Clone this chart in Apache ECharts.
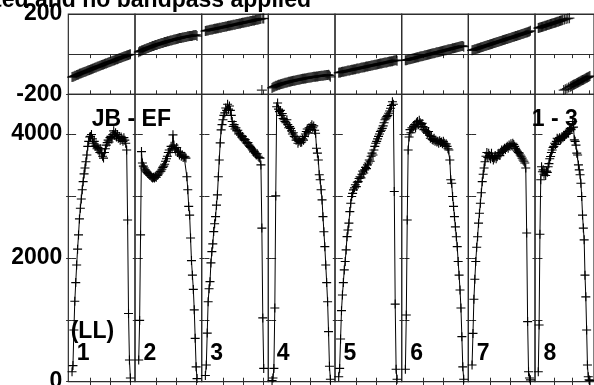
<!DOCTYPE html>
<html><head><meta charset="utf-8">
<script src="https://cdn.jsdelivr.net/npm/echarts@6/dist/echarts.min.js"></script>
<style>html,body{margin:0;padding:0;background:#fff}#c{width:594px;height:385px}</style>
</head><body><div id="c"></div>
<script>
// ---- data ----
const ifLabels = ['1','2','3','4','5','6','7','8'];
const baselineLabel = 'JB - EF';
const antennaLabel = '1 - 3';
const polLabel = '(LL)';
const titleText = 'Calibrated and no bandpass applied';
const phaseTickLabels = [-200, 200];
const ampTickLabels = [0, 2000, 4000];
const xTickChannels = [20.4, 42, 63.6];

const amp1 = [160,260,835,1300,1600,1885,2140,2370,2628,2800, 2950,3100,3230,3355,3450,3550,3660,3800,3880,3950, 3960,3990,3920,3850,3880,3800,3820,3760,3780,3740, 3700,3760,3680,3640,3610,3700,3760,3820,3860,3900, 3870,3940,3960,3920,3990,4050,3980,4020,3950,3990, 3930,3960,3900,3950,3920,3880,3940,3900,3850,3740, 2610,1100,350,60];
const amp2 = [350,990,2370,3715,3530,3480,3450,3420,3400,3380, 3360,3350,3330,3320,3300,3290,3300,3290,3310,3300, 3330,3340,3370,3390,3400,3430,3460,3480,3510,3560, 3600,3640,3700,3740,3700,3800,3760,3985,3820,3760, 3740,3780,3700,3720,3660,3700,3640,3660,3620,3640, 3630,3610,3310,3100,2830,2690,2320,1955,1720,1490, 1160,700,240,50];
const amp3 = [100,270,785,1290,1500,1615,1918,2100,2225,2423, 2550,2665,2850,3016,3310,3580,3855,4066,4150,4230, 4300,4340,4420,4380,4480,4400,4450,4380,4300,4200, 4120,4150,4080,4100,4050,4060,4000,4010,3980,3950, 3960,3920,3900,3910,3870,3850,3860,3820,3800,3780, 3760,3740,3710,3720,3690,3660,3680,3640,3620,3610, 3500,2480,1030,215];
const amp4 = [20,60,215,1190,3000,4440,4500,4400,4360,4380, 4300,4330,4250,4230,4200,4180,4230,4150,4100,4120, 4090,4050,4000,4020,3960,3950,3900,3920,3850,3880, 3900,3860,3870,3920,3900,3960,4000,4040,4080,4020, 4100,4070,4120,4150,4100,4130,4060,4010,3770,3690, 3580,3340,3260,3100,2935,2665,2420,2180,1885,1600, 1290,808,250,40];
const amp5 = [80,215,690,1147,1400,1600,1805,1940,2128,2342, 2450,2560,2746,2880,2990,3040,3097,3130,3180,3150, 3220,3230,3280,3310,3290,3350,3400,3370,3420,3460, 3440,3500,3530,3580,3560,3640,3690,3660,3740,3800, 3850,3880,3920,3960,4000,4040,4060,4090,4130,4180, 4230,4255,4280,4300,4335,4370,4415,4460,4520,4480, 3070,1253,200,40];
const amp6 = [200,1077,2610,3740,3950,4070,4020,4100,4080,4120, 4150,4100,4180,4200,4150,4220,4180,4150,4170,4120, 4070,4100,4050,4030,4010,4040,3980,3930,3960,3910, 3900,3930,3880,3900,3870,3880,3850,3890,3860,3870, 3840,3880,3850,3820,3840,3800,3760,3740,3580,3260, 3205,2990,2830,2665,2500,2340,2180,1940,1720,1480, 1190,727,240,40];
const amp7 = [270,780,1330,1655,1940,2170,2340,2560,2720,2880, 3050,3230,3350,3450,3550,3640,3700,3620,3690,3650, 3600,3690,3620,3580,3610,3650,3600,3630,3660,3690, 3650,3700,3740,3720,3740,3770,3750,3780,3800,3770, 3820,3800,3840,3810,3850,3830,3800,3770,3740,3720, 3700,3690,3660,3640,3610,3580,3560,3530,3450,2400, 970,160,60,30];
const amp8 = [160,915,2380,3260,3470,3390,3420,3350,3390,3330, 3400,3380,3470,3520,3600,3635,3700,3740,3780,3800, 3850,3830,3880,3930,3920,3900,3940,3900,3920,3960, 3940,3980,3960,4000,3990,4010,4040,4010,4060,4090, 4070,4100,4200,4110,3905,3880,3820,3690,3660,3500, 3420,3340,3205,2990,2690,2480,2290,1720,1370,835, 270,80,30,20];

const phase1 = [-114,-112,-111,-108,-107,-104,-103,-101,-98,-97, -95,-93,-92,-89,-88,-86,-84,-82,-80,-79, -76,-75,-73,-71,-69,-67,-66,-63,-62,-60, -58,-57,-54,-53,-51,-49,-47,-46,-44,-42, -40,-39,-37,-35,-33,-32,-30,-28,-26,-25, -23,-21,-19,-18,-16,-14,-12,-11,-9,-7, -5,-4,-2,-1];
const phase2 = [10,14,15,18,19,21,24,25,27,30, 31,32,35,36,38,40,41,43,45,46, 47,50,50,52,54,55,56,58,60,60, 62,64,64,66,68,68,69,71,73,73, 74,76,77,78,80,80,81,83,83,84, 86,86,87,89,89,90,91,91,92,94, 94,95,96,90];
const phase3 = [115,117,118,118,120,121,122,123,123,125, 126,126,128,129,129,131,132,132,134,135, 135,137,138,138,140,141,141,143,144,144, 146,147,147,149,150,150,152,153,153,155, 156,156,158,159,159,161,162,162,164,165, 165,167,168,168,170,171,171,173,174,175, 176,-179,178,177];
const phase4 = [-168,-165,-162,-161,-158,-157,-155,-153,-152,-150, -149,-147,-146,-145,-143,-142,-141,-140,-138,-137, -136,-135,-134,-133,-132,-131,-130,-129,-128,-127, -126,-125,-124,-123,-122,-121,-121,-120,-119,-118, -117,-116,-116,-115,-114,-113,-113,-112,-111,-111, -110,-109,-109,-108,-107,-107,-106,-105,-105,-104, -104,-103,-106,-113];
const phase5 = [-93,-91,-91,-89,-88,-88,-86,-85,-85,-83, -82,-81,-81,-79,-78,-78,-76,-75,-75,-73, -72,-71,-71,-69,-68,-67,-66,-65,-65,-63, -62,-61,-60,-59,-59,-57,-56,-55,-54,-53, -53,-51,-50,-49,-48,-47,-47,-45,-44,-43, -42,-41,-41,-39,-38,-37,-36,-35,-35,-33, -32,-31,-30,-33];
const phase6 = [-31,-30,-29,-27,-26,-25,-24,-23,-22,-20, -19,-18,-17,-16,-15,-13,-12,-11,-10,-9, -8,-6,-5,-4,-3,-2,-1,1,2,3, 4,5,6,8,9,10,11,12,13,15, 16,17,18,19,20,22,23,24,25,26, 27,29,30,31,32,33,34,36,37,38, 39,40,41,37];
const phase7 = [19,21,22,24,25,27,28,30,31,33, 34,36,37,39,40,42,43,45,46,48, 49,51,52,54,55,57,58,60,61,63, 64,66,67,69,70,72,73,75,76,78, 79,81,82,84,85,87,88,90,91,93, 94,96,97,99,100,102,103,105,106,108, 109,111,113,116];
const phase8 = [130,131,133,134,135,137,138,139,141,142, 143,145,146,147,149,150,151,153,154,155, 157,158,159,161,162,163,165,166,167,169, 170,-179,172,-175,175,-171,177,-166,179,-162, -160,-158,-155,-153,-151,-149,-147,-144,-142,-140, -138,-136,-133,-131,-129,-127,-125,-122,-120,-118, -116,-114,-111,-109];

const amps = [amp1,amp2,amp3,amp4,amp5,amp6,amp7,amp8];
const phases = [phase1,phase2,phase3,phase4,phase5,phase6,phase7,phase8];
const channels = amp1.map((_, k) => k + 1);

// ---- layout ----
const X0 = 68.33, W = 66.67, TOP = 14, MID = 94.3, BOT = 381.7;
const PLUS = 'path://M0,5L10,5M5,0L5,10';
const FONTCSS = 'bold 23px "Liberation Sans"';
const FONT = {fontFamily: 'Liberation Sans', fontWeight: 'bold', fontSize: 23, color: '#000'};
const AX = '#2e2e2e';

const grids = [], xAxes = [], yAxes = [], series = [], graphics = [];
let ampAxis0 = null;
for (let i = 0; i < 8; i++) {
  const L = X0 + i * W;
  const gp = grids.length;
  grids.push({left: L, top: TOP, width: W, height: MID - TOP, show: true, borderColor: AX, borderWidth: 1.2});
  const ga = grids.length;
  grids.push({left: L, top: MID, width: W, height: BOT - MID, show: true, borderColor: AX, borderWidth: 1.2});
  const xIdx = {};
  [gp, ga].forEach(g => {
    ['top', 'bottom'].forEach(pos => {
      xIdx[g + pos] = xAxes.length;
      xAxes.push({gridIndex: g, type: 'value', position: pos, min: -3, max: 69,
        axisLine: {show: false}, splitLine: {show: false}, axisLabel: {show: false},
        axisTick: {show: true, inside: true, length: 4, customValues: xTickChannels, lineStyle: {color: AX, width: 1}}});
    });
  });
  const yP = yAxes.length;
  yAxes.push({gridIndex: gp, type: 'value', min: -200, max: 200, interval: 200,
    axisLine: {show: false}, axisTick: {show: false},
    splitLine: {show: true, lineStyle: {color: AX, width: 1}},
    axisLabel: Object.assign({show: i === 0, margin: 6, formatter: v => phaseTickLabels.includes(v) ? String(v) : ''}, FONT)});
  const yA = yAxes.length;
  if (i === 0) ampAxis0 = yA;
  // label at the axis minimum is drawn separately (below) so it can overflow the canvas like the original
  yAxes.push({gridIndex: ga, type: 'value', min: 0, max: 4640, interval: 1000,
    axisLine: {show: false}, splitLine: {show: false},
    axisTick: {show: true, inside: true, length: 5, lineStyle: {color: AX, width: 1}},
    axisLabel: Object.assign({show: i === 0, margin: 6, formatter: v => (v !== ampTickLabels[0] && ampTickLabels.includes(v)) ? String(v) : ''}, FONT)});
  yAxes.push({gridIndex: ga, type: 'value', position: 'right', min: 0, max: 4640, interval: 1000,
    axisLine: {show: false}, splitLine: {show: false}, axisLabel: {show: false},
    axisTick: {show: true, inside: true, length: 5, lineStyle: {color: AX, width: 1}}});

  series.push({type: 'line', xAxisIndex: xIdx[ga + 'bottom'], yAxisIndex: yA,
    data: channels.map((c, k) => [c, amps[i][k]]),
    symbol: PLUS, symbolSize: 9, showAllSymbol: true, clip: true, silent: true,
    lineStyle: {color: '#000', width: 1},
    itemStyle: {color: 'none', borderColor: '#000', borderWidth: 1.1}});
  series.push({type: 'scatter', xAxisIndex: xIdx[gp + 'bottom'], yAxisIndex: yP,
    data: channels.map((c, k) => [c, phases[i][k]]),
    symbol: PLUS, symbolSize: 10, clip: true, silent: true,
    itemStyle: {color: 'none', borderColor: '#000', borderWidth: 1.2}});

  graphics.push({type: 'text', z: 100, style: {text: ifLabels[i], x: L + 8.5, y: 353.3,
    font: FONTCSS, fill: '#000', textAlign: 'left', textVerticalAlign: 'middle'}});
}
const txt = (t, x, y, align) => ({type: 'text', z: 100, style: {text: t, x: x, y: y,
  font: FONTCSS, fill: '#000', textAlign: align || 'left', textVerticalAlign: 'middle'}});
graphics.push(txt(titleText, 311, 0.5, 'right'));
graphics.push(txt(baselineLabel, 91.7, 120));
graphics.push(txt(antennaLabel, 531.7, 120));
graphics.push(txt(polLabel, 70.7, 331.5));

const chart = echarts.init(document.getElementById('c'), null, {renderer: 'canvas'});
chart.setOption({animation: false, backgroundColor: '#fff',
  grid: grids, xAxis: xAxes, yAxis: yAxes, series: series, graphic: graphics});
// amplitude-axis minimum label, positioned through the axis scale
const y0 = chart.convertToPixel({yAxisIndex: ampAxis0}, ampTickLabels[0]);
graphics.push(txt(String(ampTickLabels[0]), X0 - 6, y0, 'right'));
chart.setOption({graphic: graphics});
</script>
</body></html>
